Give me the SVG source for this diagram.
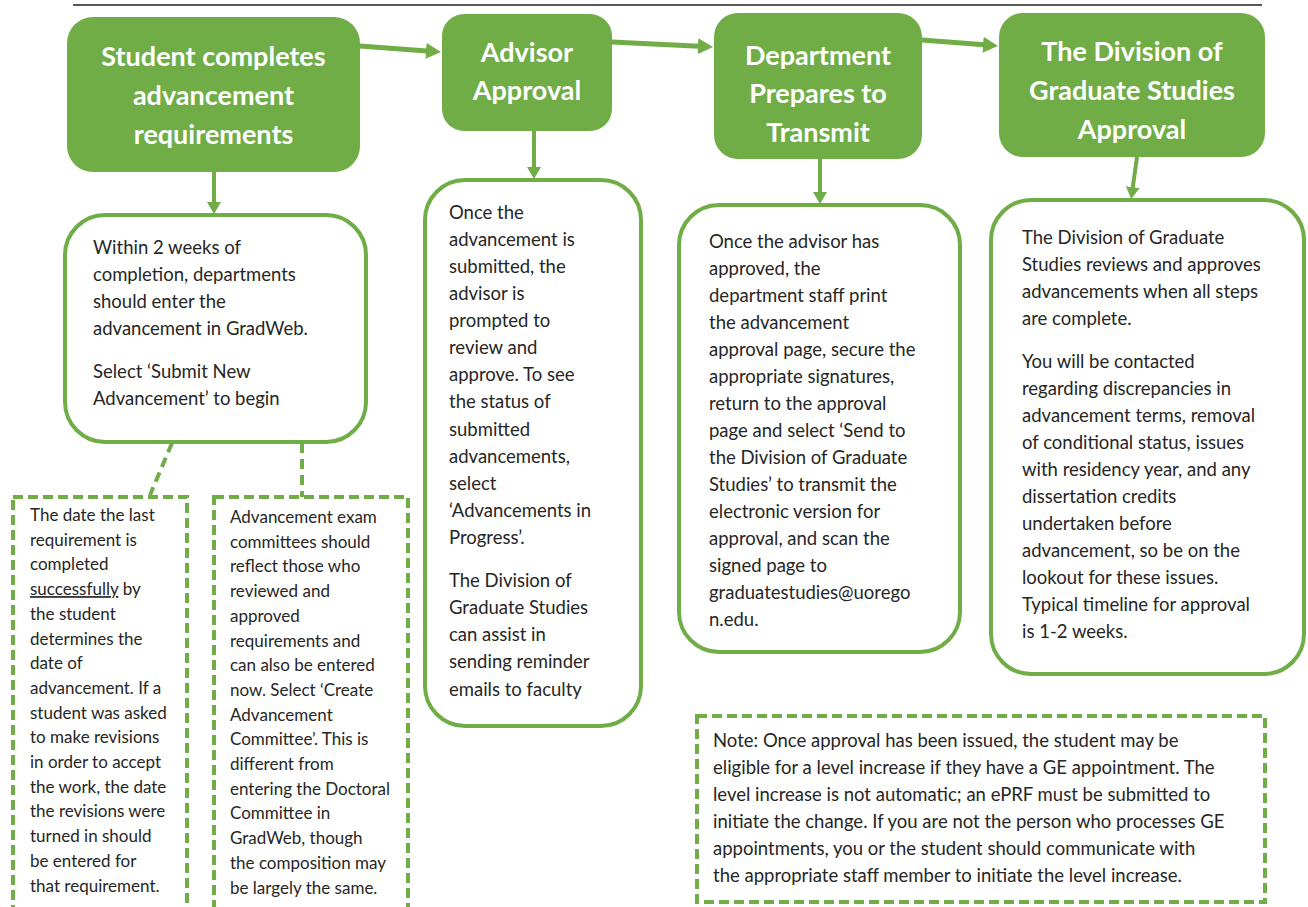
<svg xmlns="http://www.w3.org/2000/svg" width="1308" height="907" viewBox="0 0 1308 907">
<defs>
<marker id="ah" markerUnits="userSpaceOnUse" markerWidth="16" markerHeight="16" refX="1" refY="8" orient="auto"><path d="M0,0 L15,8 L0,16 z" fill="#70AD47"/></marker>
<marker id="av" markerUnits="userSpaceOnUse" markerWidth="13" markerHeight="14" refX="1" refY="7" orient="auto"><path d="M0,0 L12,7 L0,14 z" fill="#70AD47"/></marker>
<style>
.hd{fill:#70AD47}
.hdt{font-family:Lato,"Liberation Sans",sans-serif;font-weight:bold;font-size:27px;fill:#fff;text-anchor:middle}
.bx{fill:#fff;stroke:#70AD47;stroke-width:4}
.ds{fill:#fff;stroke:#70AD47;stroke-width:4;stroke-dasharray:10 5}
.tx{font-family:Lato,"Liberation Sans",sans-serif;font-size:18.5px;fill:#262626}
.tsm{font-family:Lato,"Liberation Sans",sans-serif;font-size:17px;fill:#262626}
.ca{stroke:#70AD47;stroke-width:5;fill:none}
.cv{stroke:#70AD47;stroke-width:4;fill:none}
.cd{stroke:#70AD47;stroke-width:4;fill:none;stroke-dasharray:10 6}
</style>
</defs>
<line x1="73" y1="5" x2="1262" y2="5" stroke="#222" stroke-width="1.5"/>
<g id="connectors">
<line class="ca" x1="360" y1="46" x2="427" y2="50.9" marker-end="url(#ah)"/>
<line class="ca" x1="612" y1="42" x2="699" y2="46.3" marker-end="url(#ah)"/>
<line class="ca" x1="922" y1="40" x2="984" y2="44.8" marker-end="url(#ah)"/>
<line class="cv" x1="214" y1="172" x2="214" y2="203" marker-end="url(#av)"/>
<line class="cv" x1="534" y1="131" x2="534" y2="168" marker-end="url(#av)"/>
<line class="cv" x1="820" y1="159" x2="820" y2="193" marker-end="url(#av)"/>
<line class="cv" x1="1137" y1="157" x2="1132.7" y2="188.1" marker-end="url(#av)"/>
<line class="cd" x1="172" y1="443" x2="150" y2="495"/>
<line class="cd" x1="302" y1="443" x2="302" y2="497"/>
</g>
<g id="h1">
<rect class="hd" x="67" y="17" width="293" height="155" rx="26"/>
<text class="hdt" x="213.5"><tspan x="213.5" y="66">Student completes</tspan><tspan x="213.5" y="105">advancement</tspan><tspan x="213.5" y="144">requirements</tspan></text>
</g>
<g id="h2">
<rect class="hd" x="442" y="14" width="170" height="117" rx="22"/>
<text class="hdt"><tspan x="527" y="62">Advisor</tspan><tspan x="527" y="100">Approval</tspan></text>
</g>
<g id="h3">
<rect class="hd" x="714" y="13" width="208" height="146" rx="24"/>
<text class="hdt"><tspan x="818" y="65">Department</tspan><tspan x="818" y="103">Prepares to</tspan><tspan x="818" y="142">Transmit</tspan></text>
</g>
<g id="h4">
<rect class="hd" x="999" y="13" width="266" height="144" rx="24"/>
<text class="hdt"><tspan x="1132" y="61">The Division of</tspan><tspan x="1132" y="100">Graduate Studies</tspan><tspan x="1132" y="139">Approval</tspan></text>
</g>
<g id="b1">
<rect class="bx" x="65" y="215" width="301" height="227" rx="40"/>
<text class="tx"><tspan x="93" y="254">Within 2 weeks of</tspan><tspan x="93" y="281">completion, departments</tspan><tspan x="93" y="308">should enter the</tspan><tspan x="93" y="335">advancement in GradWeb.</tspan><tspan x="93" y="378">Select ‘Submit New</tspan><tspan x="93" y="405">Advancement’ to begin</tspan></text>
</g>
<g id="b2">
<rect class="bx" x="425" y="180" width="216" height="546" rx="40"/>
<text class="tx"><tspan x="449" y="219">Once the</tspan><tspan x="449" y="246">advancement is</tspan><tspan x="449" y="273">submitted, the</tspan><tspan x="449" y="300">advisor is</tspan><tspan x="449" y="327">prompted to</tspan><tspan x="449" y="354">review and</tspan><tspan x="449" y="381">approve. To see</tspan><tspan x="449" y="408">the status of</tspan><tspan x="449" y="436">submitted</tspan><tspan x="449" y="463">advancements,</tspan><tspan x="449" y="490">select</tspan><tspan x="449" y="517">‘Advancements in</tspan><tspan x="449" y="544">Progress’.</tspan><tspan x="449" y="587">The Division of</tspan><tspan x="449" y="614">Graduate Studies</tspan><tspan x="449" y="641">can assist in</tspan><tspan x="449" y="668">sending reminder</tspan><tspan x="449" y="696">emails to faculty</tspan></text>
</g>
<g id="b3">
<rect class="bx" x="679" y="205" width="281" height="447" rx="40"/>
<text class="tx"><tspan x="709" y="248">Once the advisor has</tspan><tspan x="709" y="275">approved, the</tspan><tspan x="709" y="302">department staff print</tspan><tspan x="709" y="329">the advancement</tspan><tspan x="709" y="356">approval page, secure the</tspan><tspan x="709" y="383">appropriate signatures,</tspan><tspan x="709" y="410">return to the approval</tspan><tspan x="709" y="437">page and select ‘Send to</tspan><tspan x="709" y="464">the Division of Graduate</tspan><tspan x="709" y="491">Studies’ to transmit the</tspan><tspan x="709" y="518">electronic version for</tspan><tspan x="709" y="545">approval, and scan the</tspan><tspan x="709" y="572">signed page to</tspan><tspan x="709" y="599">graduatestudies@uorego</tspan><tspan x="709" y="626">n.edu.</tspan></text>
</g>
<g id="b4">
<rect class="bx" x="991" y="200" width="313" height="474" rx="40"/>
<text class="tx"><tspan x="1022" y="244">The Division of Graduate</tspan><tspan x="1022" y="271">Studies reviews and approves</tspan><tspan x="1022" y="298">advancements when all steps</tspan><tspan x="1022" y="325">are complete.</tspan><tspan x="1022" y="368">You will be contacted</tspan><tspan x="1022" y="395">regarding discrepancies in</tspan><tspan x="1022" y="422">advancement terms, removal</tspan><tspan x="1022" y="449">of conditional status, issues</tspan><tspan x="1022" y="476">with residency year, and any</tspan><tspan x="1022" y="503">dissertation credits</tspan><tspan x="1022" y="530">undertaken before</tspan><tspan x="1022" y="557">advancement, so be on the</tspan><tspan x="1022" y="584">lookout for these issues.</tspan><tspan x="1022" y="611">Typical timeline for approval</tspan><tspan x="1022" y="638">is 1-2 weeks.</tspan></text>
</g>
<g id="d1">
<rect class="ds" x="13" y="497" width="174" height="440"/>
<text class="tsm"><tspan x="30" y="521">The date the last</tspan><tspan x="30" y="545.7">requirement is</tspan><tspan x="30" y="570.4">completed</tspan><tspan x="30" y="595.1" text-decoration="underline">successfully</tspan><tspan> by</tspan><tspan x="30" y="619.8">the student</tspan><tspan x="30" y="644.5">determines the</tspan><tspan x="30" y="669.2">date of</tspan><tspan x="30" y="693.9">advancement. If a</tspan><tspan x="30" y="718.6">student was asked</tspan><tspan x="30" y="743.3">to make revisions</tspan><tspan x="30" y="768">in order to accept</tspan><tspan x="30" y="792.7">the work, the date</tspan><tspan x="30" y="817.4">the revisions were</tspan><tspan x="30" y="842.1">turned in should</tspan><tspan x="30" y="866.8">be entered for</tspan><tspan x="30" y="891.5">that requirement.</tspan></text>
</g>
<g id="d2">
<rect class="ds" x="214" y="497" width="194" height="440"/>
<text class="tsm"><tspan x="230" y="523">Advancement exam</tspan><tspan x="230" y="547.7">committees should</tspan><tspan x="230" y="572.4">reflect those who</tspan><tspan x="230" y="597.1">reviewed and</tspan><tspan x="230" y="621.8">approved</tspan><tspan x="230" y="646.5">requirements and</tspan><tspan x="230" y="671.2">can also be entered</tspan><tspan x="230" y="695.9">now. Select ‘Create</tspan><tspan x="230" y="720.6">Advancement</tspan><tspan x="230" y="745.3">Committee’. This is</tspan><tspan x="230" y="770">different from</tspan><tspan x="230" y="794.7">entering the Doctoral</tspan><tspan x="230" y="819.4">Committee in</tspan><tspan x="230" y="844.1">GradWeb, though</tspan><tspan x="230" y="868.8">the composition may</tspan><tspan x="230" y="893.5">be largely the same.</tspan></text>
</g>
<g id="note">
<rect class="ds" x="697" y="716" width="568" height="186"/>
<text class="tx"><tspan x="713" y="747">Note: Once approval has been issued, the student may be</tspan><tspan x="713" y="774">eligible for a level increase if they have a GE appointment. The</tspan><tspan x="713" y="801">level increase is not automatic; an ePRF must be submitted to</tspan><tspan x="713" y="828">initiate the change. If you are not the person who processes GE</tspan><tspan x="713" y="855">appointments, you or the student should communicate with</tspan><tspan x="713" y="882">the appropriate staff member to initiate the level increase.</tspan></text>
</g>
</svg>
